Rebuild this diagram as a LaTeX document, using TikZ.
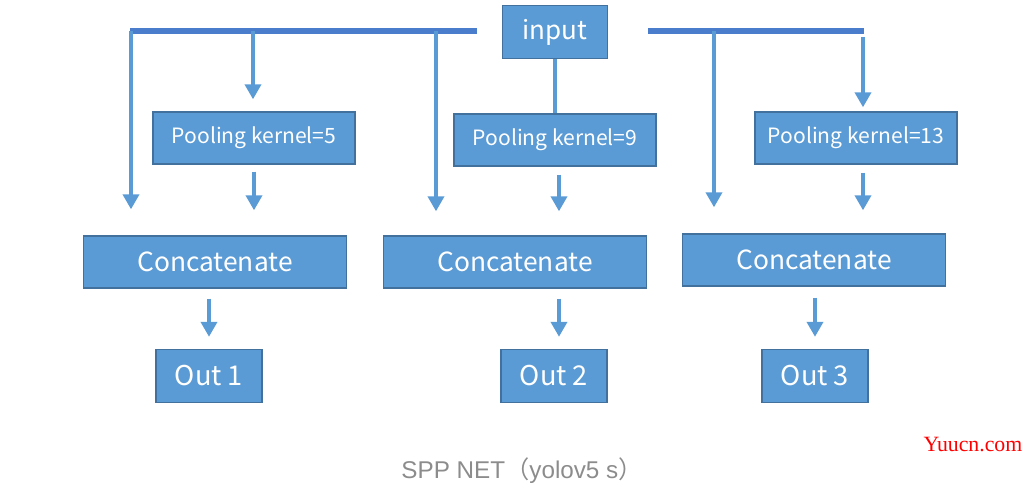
\documentclass[tikz,border=0pt]{standalone}
\usepackage{fontspec}
\setmainfont{Noto Sans CJK SC}
\newfontfamily\capfont{Liberation Sans}
\newfontfamily\cjkfont{Noto Sans CJK SC}
\newfontfamily\wmfont{Liberation Serif}
\usepackage{xcolor}
\usetikzlibrary{arrows.meta, positioning}
\definecolor{boxblue}{HTML}{5B9BD5}
\definecolor{boxedge}{HTML}{41719C}
\definecolor{busblue}{HTML}{4A7DCB}
\definecolor{capgray}{HTML}{8C8C8C}
\tikzset{
  block/.style   = {rectangle, draw=boxedge, fill=boxblue, text=white,
                    line width=0.8pt, inner sep=0pt},
  inbox/.style   = {block, minimum width=2.1cm, minimum height=1.06cm, font=\fontsize{14.8}{17}\selectfont},
  poolbox/.style = {block, minimum width=4.04cm, minimum height=1.04cm, font=\fontsize{12}{14}\selectfont},
  catbox/.style  = {block, minimum width=5.26cm, minimum height=1.04cm, font=\fontsize{15}{18}\selectfont},
  outbox/.style  = {block, minimum width=2.12cm, minimum height=1.06cm, font=\fontsize{15.5}{18}\selectfont},
  bus/.style     = {draw=busblue, line width=3.3pt},
  feed/.style    = {draw=boxblue, line width=2.3pt},
  arrow/.style   = {feed, -{Triangle[width=0.32cm, length=0.3cm]}}
}

\begin{document}
\begin{tikzpicture}[x=0.02cm, y=-0.02cm]
  \useasboundingbox (0,0) rectangle (1036,500);
  % boxes
  \node[inbox]   (input) at (555,32)  {input};
  \node[poolbox] (pool5)  at (254,138) {Pooling kernel=5};
  \node[poolbox] (pool9)  at (555,140) {Pooling kernel=9};
  \node[poolbox] (pool13) at (856,138) {Pooling kernel=13};
  \node[catbox]  (cat1) at (215,262) {Concatenate};
  \node[catbox]  (cat2) at (515,262) {Concatenate};
  \node[catbox]  (cat3) at (814,260) {Concatenate};
  \node[outbox]  (out1) at (209,376) {Out 1};
  \node[outbox]  (out2) at (554,376) {Out 2};
  \node[outbox]  (out3) at (815,376) {Out 3};
  % bus bars
  \coordinate (busLa) at (130,31);
  \coordinate (busLb) at (477,31);
  \coordinate (busRa) at (648,31);
  \coordinate (busRb) at (864,31);
  \draw[bus] (busLa) -- (busLb);
  \draw[bus] (busRa) -- (busRb);
  % drops from the bus bars
  \coordinate (d1) at (131,31);
  \coordinate (d2) at (253,31);
  \coordinate (d3) at (436,31);
  \coordinate (d4) at (714,31);
  \coordinate (d5) at (863,37);
  \draw[arrow, shorten >=0.52cm] (d1) -- (d1 |- cat1.north);
  \draw[arrow, shorten >=0.24cm] (d2) -- (d2 |- pool5.north);
  \draw[arrow, shorten >=0.48cm] (d3) -- (d3 |- cat2.north);
  \draw[arrow, shorten >=0.52cm] (d4) -- (d4 |- cat3.north);
  \draw[arrow, shorten >=0.08cm] (d5) -- (d5 |- pool13.north);
  \draw[feed] (input.south) -- (pool9.north);
  % pooling -> concatenate
  \draw[arrow, shorten <=0.14cm, shorten >=0.5cm] (pool5.south) -- (pool5.south |- cat1.north);
  \draw[arrow, shorten <=0.16cm, shorten >=0.48cm] ([xshift=0.08cm]pool9.south) -- ([xshift=0.08cm]pool9.south |- cat2.north);
  \draw[arrow, shorten <=0.16cm, shorten >=0.46cm] ([xshift=0.14cm]pool13.south) -- ([xshift=0.14cm]pool13.south |- cat3.north);
  % concatenate -> out
  \draw[arrow, shorten <=0.2cm, shorten >=0.24cm] (out1.north |- cat1.south) -- (out1.north);
  \draw[arrow, shorten <=0.2cm, shorten >=0.24cm] ([xshift=0.1cm]out2.north |- cat2.south) -- ([xshift=0.1cm]out2.north);
  \draw[arrow, shorten <=0.22cm, shorten >=0.24cm] (out3.north |- cat3.south) -- (out3.north);
  % caption and watermark
  \node[text=capgray, font=\capfont\fontsize{13.8}{16}\selectfont] (caption) at (522,471)
    {SPP NET{\cjkfont （}yolov5 s{\cjkfont ）}};
  \node[text=red, font=\wmfont\fontsize{12.4}{14}\selectfont] (mark) at (973,445) {Yuucn.com};
\end{tikzpicture}
\end{document}
